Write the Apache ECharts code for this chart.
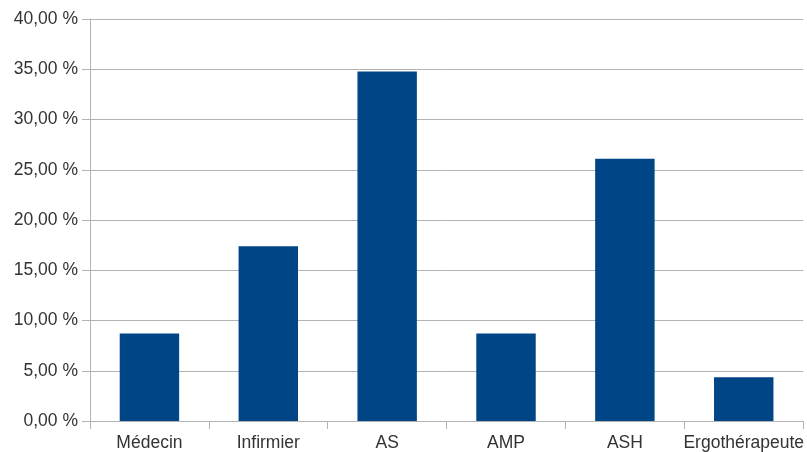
<!DOCTYPE html>
<html><head><meta charset="utf-8">
<script src="https://cdn.jsdelivr.net/npm/echarts@6/dist/echarts.min.js"></script>
<style>html,body{margin:0;padding:0;background:#fff}#c{width:807px;height:452px}</style>
</head><body><div id="c"></div>
<script>
const categories = ['Médecin', 'Infirmier', 'AS', 'AMP', 'ASH', 'Ergothérapeute'];
const values = [8.70, 17.39, 34.78, 8.70, 26.09, 4.35];
const yMin = 0, yMax = 40, yStep = 5;

const chart = echarts.init(document.getElementById('c'), null, {renderer: 'canvas'});
chart.setOption({
  animation: false,
  grid: {left: 90, right: 3, top: 19, bottom: 30, containLabel: false},
  xAxis: {
    type: 'category', data: categories,
    axisLine: {show: true, lineStyle: {color: '#b3b3b3', width: 1}},
    axisTick: {show: true, alignWithLabel: false, length: 8, lineStyle: {color: '#b3b3b3'}},
    axisLabel: {color: '#333', fontFamily: 'Liberation Sans', fontSize: 17.5, margin: 13, interval: 0}
  },
  yAxis: {
    type: 'value', min: yMin, max: yMax, interval: yStep,
    axisLine: {show: true, lineStyle: {color: '#b3b3b3', width: 1}},
    axisTick: {show: true, length: 8, lineStyle: {color: '#b3b3b3'}},
    splitLine: {show: true, lineStyle: {color: '#b3b3b3', width: 1}},
    axisLabel: {color: '#333', fontFamily: 'Liberation Sans', fontSize: 17.5, margin: 12,
      formatter: v => v.toFixed(2).replace('.', ',') + ' %'}
  },
  series: [{
    type: 'bar', data: values, barWidth: '50%',
    itemStyle: {color: '#004586'}
  }]
});
</script></body></html>
